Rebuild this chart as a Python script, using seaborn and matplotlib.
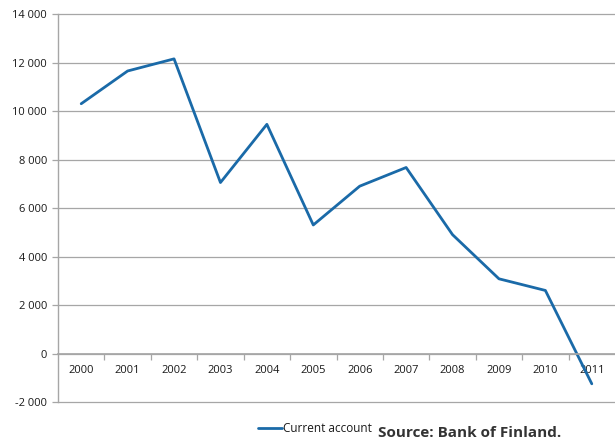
import matplotlib
matplotlib.use("Agg")
import matplotlib.pyplot as plt
import matplotlib.ticker as mticker
import seaborn as sns
import pandas as pd

# Finland's current account balance, EUR million
years = ["2000", "2001", "2002", "2003", "2004", "2005",
         "2006", "2007", "2008", "2009", "2010", "2011"]
current_account = [10300, 11650, 12150, 7050, 9450, 5300,
                   6900, 7670, 4900, 3080, 2600, -1250]
series_name = "Current account"
source_note = "Source: Bank of Finland."

df = pd.DataFrame({"year": years, "value": current_account})

sns.set_theme(style="white")
plt.rcParams["font.family"] = ["Open Sans", "DejaVu Sans"]

fig = plt.figure(figsize=(6.15, 4.45), dpi=100)
ax = fig.add_axes([58 / 615, 1 - 402 / 445, 1 - 58 / 615, (402 - 14) / 445])

line_color = "#1A6AA8"
grid_color = "#A6A6A6"

sns.lineplot(data=df, x="year", y="value", ax=ax, color=line_color,
             linewidth=2.0, label=series_name, sort=False)

ax.set_ylim(-2000, 14000)
ax.set_xlim(-0.5, len(years) - 0.5)
ax.yaxis.set_major_locator(mticker.MultipleLocator(2000))
ax.yaxis.set_major_formatter(
    mticker.FuncFormatter(lambda v, _: f"{int(v):,}".replace(",", " ")))
ax.grid(axis="y", color=grid_color, linewidth=0.9)
for gl in ax.get_ygridlines():
    gl.set_clip_on(False)
ax.set_axisbelow(True)

# Category axis sits on the zero line
for side in ("top", "right"):
    ax.spines[side].set_visible(False)
ax.spines["bottom"].set_position(("data", 0))
ax.spines["bottom"].set_color(grid_color)
ax.spines["left"].set_color(grid_color)
ax.spines["left"].set_linewidth(1.0)

ax.set_xticks(range(len(years)))
ax.set_xticklabels(years)
ax.set_xticks([i + 0.5 for i in range(len(years) - 1)], minor=True)
ax.tick_params(axis="x", which="major", length=0, pad=8, labelsize=8,
               labelcolor="#1a1a1a")
ax.tick_params(axis="x", which="minor", length=4, width=0.9,
               color=grid_color, direction="out", bottom=True)
ax.tick_params(axis="y", which="major", length=4, width=0.9, left=True,
               color=grid_color, direction="out", pad=4, labelsize=8,
               labelcolor="#1a1a1a")
ax.set_xlabel("")
ax.set_ylabel("")

leg = ax.legend(loc="center left", bbox_to_anchor=(258 / 615, 1 - 429 / 445),
                bbox_transform=fig.transFigure, frameon=False,
                handlelength=2.0, handletextpad=0.1, borderpad=0,
                borderaxespad=0, fontsize=8.5)
for t in leg.get_texts():
    t.set_color("#1a1a1a")

fig.text(378 / 615, 1 - 433 / 445, source_note, ha="left", va="center",
         fontsize=11, fontweight="bold", color="#333333",
         family=["Open Sans", "DejaVu Sans"], fontstretch="condensed")

fig.savefig("out.png", dpi=100)
